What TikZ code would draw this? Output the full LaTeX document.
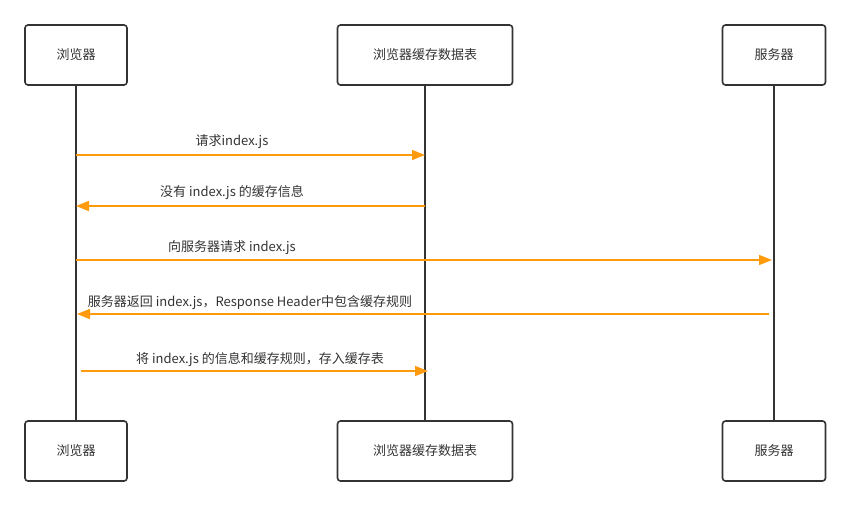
\documentclass[tikz,border=0pt]{standalone}
\usepackage{fontspec}
\setmainfont{Noto Sans CJK SC}
\usetikzlibrary{arrows.meta}

\definecolor{linedark}{HTML}{333333}
\definecolor{msgorange}{HTML}{FF9A0D}

\tikzset{
  actor/.style={draw=linedark, line width=1.6pt, rounded corners=3pt, fill=white,
    minimum width=102pt, minimum height=60pt, font=\fontsize{13}{15}\selectfont,
    text=linedark, inner sep=0pt},
  lifeline/.style={draw=linedark, line width=1.7pt},
  msg/.style={draw=msgorange, line width=1.6pt,
    -{Triangle[length=13pt, width=10pt]}},
  msglabel/.style={font=\fontsize{13}{15}\selectfont, text=linedark, inner sep=0pt}
}

\begin{document}
\begin{tikzpicture}[x=1pt, y=-1pt]
  \useasboundingbox (0,0) rectangle (850,506);
  % actors, top row and bottom row
  \node[actor] (browserT) at (76,55) {浏览器};
  \node[actor, minimum width=175pt] (cacheT) at (425,55) {浏览器缓存数据表};
  \node[actor, minimum width=103pt] (serverT) at (774,55) {服务器};
  \node[actor] (browserB) at (76,451) {浏览器};
  \node[actor, minimum width=175pt] (cacheB) at (425,451) {浏览器缓存数据表};
  \node[actor, minimum width=103pt] (serverB) at (774,451) {服务器};
  % lifelines
  \foreach \a in {browser,cache,server} {
    \draw[lifeline] (\a T.south) -- (\a B.north);
  }
  % end points of the messages on the lifelines
  \coordinate (m1a) at (76,155);  \coordinate (m1b) at (425,155);
  \coordinate (m2a) at (425,206); \coordinate (m2b) at (76,206);
  \coordinate (m3a) at (76,260);  \coordinate (m3b) at (772,260);
  \coordinate (m4a) at (769,314); \coordinate (m4b) at (77,314);
  \coordinate (m5a) at (81,371);  \coordinate (m5b) at (428,371);
  \foreach \m in {1,...,5} {
    \draw[msg] (m\m a) -- (m\m b);
  }
  % message texts
  \node[msglabel] (t1) at (232,142) {请求index.js};
  \node[msglabel] (t2) at (232,193) {没有 index.js 的缓存信息};
  \node[msglabel] (t3) at (232,248) {向服务器请求 index.js};
  \node[msglabel] (t4) at (250,303) {服务器返回 index.js，Response Header中包含缓存规则};
  \node[msglabel] (t5) at (260,360) {将 index.js 的信息和缓存规则，存入缓存表};
\end{tikzpicture}
\end{document}
